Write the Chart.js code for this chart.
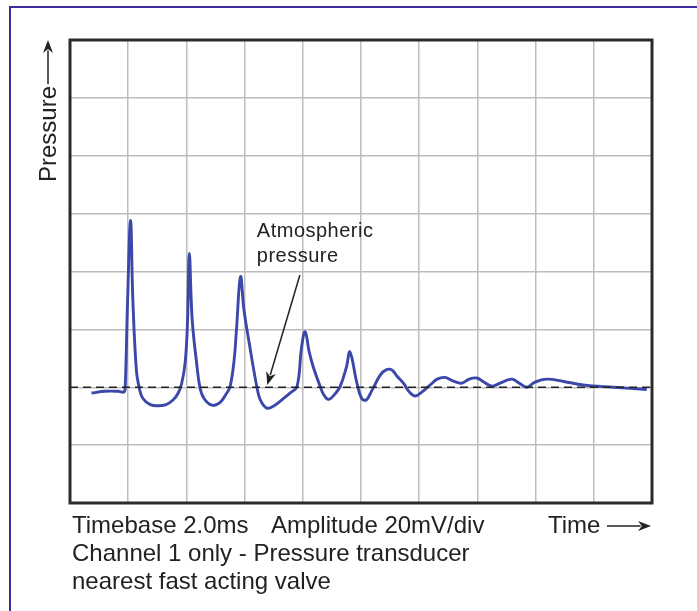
<!DOCTYPE html>
<html>
<head>
<meta charset="utf-8">
<title>Pressure transducer trace</title>
<script src="https://cdn.jsdelivr.net/npm/chart.js@4.4.1/dist/chart.umd.min.js"></script>
<style>
	body { margin: 0; background: #fff; overflow: hidden; font-family: "Liberation Sans", Arial, sans-serif; }
	#wrap { position: relative; width: 697px; height: 611px; overflow: hidden; }
	#frame { position: absolute; left: 9px; top: 6px; width: 800px; height: 700px; border: 2px solid #3d2c9c; }
	canvas { position: absolute; left: 0; top: 0; }
	.cap { position: absolute; font-size: 24px; line-height: 28px; color: #222; white-space: pre; }
</style>
</head>
<body>
<div id="wrap">
	<div id="frame"></div>
	<canvas id="scope" width="697" height="611"></canvas>
	<div class="cap" style="left:72px;top:511px">Timebase 2.0ms</div>
	<div class="cap" style="left:271px;top:511px">Amplitude 20mV/div</div>
	<div class="cap" style="left:548px;top:511px">Time</div>
	<div class="cap" style="left:72px;top:539px">Channel 1 only - Pressure transducer</div>
	<div class="cap" style="left:72px;top:567px">nearest fast acting valve</div>
</div>
<script>
	// time in divisions (10 across), pressure in divisions (8 up)
	const traceTime = [0.37, 0.60, 0.83, 0.93, 0.95, 0.99, 1.04,
		1.08, 1.14, 1.19, 1.25, 1.38, 1.51, 1.65, 1.77, 1.86, 1.92, 1.98, 2.02, 2.05,
		2.10, 2.18, 2.23, 2.30, 2.44, 2.58, 2.68, 2.75, 2.82, 2.86, 2.93,
		2.99, 3.09, 3.21, 3.27, 3.38, 3.52, 3.66, 3.78, 3.90, 3.98, 4.04,
		4.11, 4.18, 4.30, 4.36, 4.44, 4.55, 4.64, 4.75, 4.81,
		4.93, 5.01, 5.09, 5.19, 5.33, 5.43, 5.53, 5.62, 5.73, 5.83, 5.93,
		6.05, 6.19, 6.31, 6.44, 6.58, 6.73, 6.86, 6.99, 7.11, 7.25, 7.39, 7.59,
		7.72, 7.85, 7.99, 8.19, 8.48, 8.82, 9.34, 9.91];
	const tracePressure = [1.90, 1.93, 1.93, 1.92, 2.04, 3.51, 4.88,
		3.51, 2.30, 1.99, 1.81, 1.70, 1.68, 1.70, 1.78, 1.90, 2.07, 2.44, 3.16, 4.31,
		3.16, 2.38, 2.01, 1.81, 1.69, 1.74, 1.88, 2.01, 2.47, 2.99, 3.91,
		3.33, 2.70, 2.01, 1.78, 1.64, 1.69, 1.80, 1.90, 2.01, 2.70, 2.96,
		2.61, 2.35, 2.01, 1.87, 1.79, 1.88, 2.01, 2.35, 2.61,
		2.07, 1.81, 1.78, 1.95, 2.21, 2.30, 2.30, 2.19, 2.07, 1.92, 1.85,
		1.92, 2.04, 2.14, 2.17, 2.11, 2.07, 2.14, 2.16, 2.09, 2.02, 2.07, 2.14,
		2.07, 2.00, 2.09, 2.14, 2.10, 2.04, 2.00, 1.96];
	const atmosphericLevel = 2;
	const timeDivs = 10;
	const pressureDivs = 8;

	const noteLines = ["Atmospheric", "pressure"];
	const notePos = [3.21, 4.60];      // first line baseline
	const noteArrow = [3.95, 3.94, 3.39, 2.04];

	const tracePoints = traceTime.map((t, i) => ({ x: t, y: tracePressure[i] }));

	function arrow(ctx, x1, y1, x2, y2) {
		const ang = Math.atan2(y2 - y1, x2 - x1);
		const len = 13, half = 5;
		ctx.beginPath();
		ctx.moveTo(x1, y1);
		ctx.lineTo(x2 - Math.cos(ang) * len * 0.8, y2 - Math.sin(ang) * len * 0.8);
		ctx.stroke();
		ctx.beginPath();
		ctx.moveTo(x2, y2);
		ctx.lineTo(x2 - Math.cos(ang) * len - Math.sin(ang) * half, y2 - Math.sin(ang) * len + Math.cos(ang) * half);
		ctx.lineTo(x2 - Math.cos(ang) * len * 0.7, y2 - Math.sin(ang) * len * 0.7);
		ctx.lineTo(x2 - Math.cos(ang) * len + Math.sin(ang) * half, y2 - Math.sin(ang) * len - Math.cos(ang) * half);
		ctx.closePath();
		ctx.fill();
	}

	const overlay = {
		id: "overlay",
		afterDraw(chart) {
			const { ctx, chartArea: a, scales: { x, y } } = chart;
			ctx.save();
			ctx.strokeStyle = "#2b2b2b";
			ctx.lineWidth = 3;
			ctx.strokeRect(a.left, a.top, a.right - a.left, a.bottom - a.top);

			ctx.fillStyle = "#222";
			ctx.strokeStyle = "#222";
			ctx.lineWidth = 1.5;
			ctx.font = '20px "Liberation Sans", Arial, sans-serif';
			ctx.letterSpacing = "0.5px";
			const nx = x.getPixelForValue(notePos[0]);
			const ny = y.getPixelForValue(notePos[1]);
			ctx.fillText(noteLines[0], nx, ny);
			ctx.fillText(noteLines[1], nx, ny + 25);
			ctx.letterSpacing = "0px";
			arrow(ctx, x.getPixelForValue(noteArrow[0]), y.getPixelForValue(noteArrow[1]),
				x.getPixelForValue(noteArrow[2]), y.getPixelForValue(noteArrow[3]));

			// y label
			ctx.save();
			ctx.translate(a.left - 14, 182);
			ctx.rotate(-Math.PI / 2);
			ctx.font = '24px "Liberation Sans", Arial, sans-serif';
			ctx.fillText("Pressure", 0, 0);
			ctx.restore();
			arrow(ctx, a.left - 22, 84, a.left - 22, a.top);
			// time arrow
			arrow(ctx, 607, 526, a.right - 1, 526);
			ctx.restore();
		}
	};

	const gridStyle = { color: "#bdbdbd", lineWidth: 1.5, drawTicks: false };

	new Chart("scope", {
		type: "line",
		data: {
			datasets: [{
				data: [{ x: 0, y: atmosphericLevel }, { x: timeDivs, y: atmosphericLevel }],
				borderColor: "#222",
				borderWidth: 1.6,
				borderDash: [8, 5],
				pointRadius: 0
			}, {
				data: tracePoints,
				borderColor: "#3b48aa",
				borderWidth: 2.9,
				pointRadius: 0,
				tension: 0.4
			}]
		},
		options: {
			responsive: false,
			animation: false,
			layout: { padding: { left: 70, top: 40, right: 45, bottom: 108 } },
			plugins: { legend: { display: false }, tooltip: { enabled: false } },
			scales: {
				x: {
					type: "linear", min: 0, max: timeDivs,
					ticks: { display: false, stepSize: 1 },
					grid: gridStyle, border: { display: false }
				},
				y: {
					type: "linear", min: 0, max: pressureDivs,
					ticks: { display: false, stepSize: 1 },
					grid: gridStyle, border: { display: false }
				}
			}
		},
		plugins: [overlay]
	});
</script>
</body>
</html>
